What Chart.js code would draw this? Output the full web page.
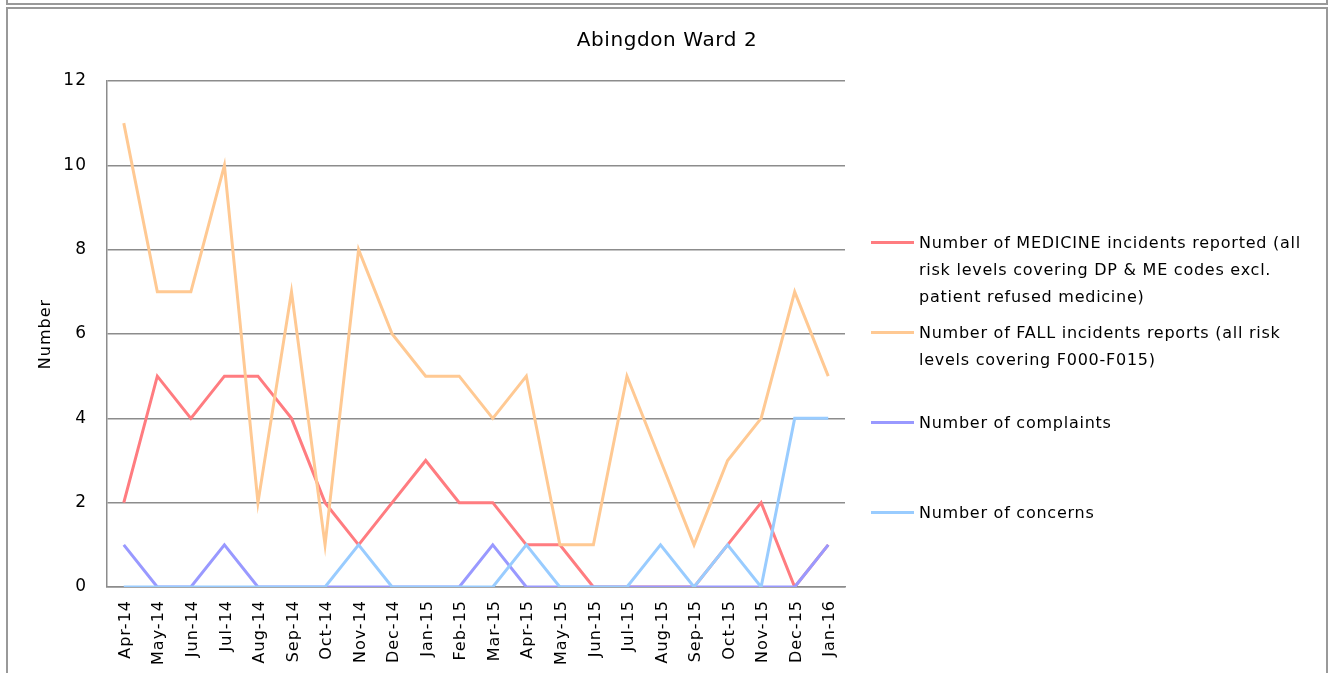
<!DOCTYPE html>
<html>
<head>
<meta charset="utf-8">
<script src="https://cdn.jsdelivr.net/npm/chart.js@4.4.0/dist/chart.umd.min.js"></script>
<style>
    body { margin: 0; background: #fff; font-family: "DejaVu Sans", sans-serif; }
    #wrap { position: relative; width: 1334px; height: 673px; overflow: hidden; }
    #prevBox { position: absolute; left: 6px; top: -10px; width: 1318px; height: 11px; border: 2px solid #999; }
    #box { position: absolute; left: 6px; top: 7px; width: 1318px; height: 700px; border: 2px solid #999; }
    #title { position: absolute; left: 0; width: 1334px; top: 27px; text-align: center; font-size: 20px; letter-spacing: 0.6px; color: #000; }
    #legend { position: absolute; left: 871px; top: 0; }
    .item { position: absolute; left: 0; width: 450px; }
    .swatch { position: absolute; left: 0; top: 12px; width: 43px; height: 3px; }
    .text { position: absolute; left: 48px; top: 0; font-size: 16px; letter-spacing: 0.75px; line-height: 27px; white-space: nowrap; color: #000; }
    canvas { position: absolute; left: 0; top: 0; }
</style>
</head>
<body>
<div id="wrap">
    <div id="prevBox"></div>
    <div id="box"></div>
    <canvas id="chart" width="1334" height="673"></canvas>
    <div id="title"></div>
    <div id="legend"></div>
</div>
<script>
const chartTitle = "Abingdon Ward 2";
const yAxisTitle = "Number";

const months = ["Apr-14", "May-14", "Jun-14", "Jul-14", "Aug-14", "Sep-14", "Oct-14", "Nov-14",
    "Dec-14", "Jan-15", "Feb-15", "Mar-15", "Apr-15", "May-15", "Jun-15", "Jul-15", "Aug-15",
    "Sep-15", "Oct-15", "Nov-15", "Dec-15", "Jan-16"];

const medicineIncidents = [2, 5, 4, 5, 5, 4, 2, 1, 2, 3, 2, 2, 1, 1, 0, 0, 0, 0, 1, 2, 0, 1];
const fallIncidents     = [11, 7, 7, 10, 2, 7, 1, 8, 6, 5, 5, 4, 5, 1, 1, 5, 3, 1, 3, 4, 7, 5];
const complaints        = [1, 0, 0, 1, 0, 0, 0, 0, 0, 0, 0, 1, 0, 0, 0, 0, 0, 0, 0, 0, 0, 1];
const concerns          = [0, 0, 0, 0, 0, 0, 0, 1, 0, 0, 0, 0, 1, 0, 0, 0, 1, 0, 1, 0, 4, 4];

// legend text, already broken into the lines used in the picture
const legendLines = [
    ["Number of MEDICINE incidents reported (all", "risk levels covering DP & ME codes excl.", "patient refused medicine)"],
    ["Number of FALL incidents reports (all risk", "levels covering F000-F015)"],
    ["Number of complaints"],
    ["Number of concerns"]
];

const seriesColors = ["#FF7C80", "#FFC993", "#9999FF", "#99CCFF"];
const yTicks = [0, 2, 4, 6, 8, 10, 12];

const seriesValues = [medicineIncidents, fallIncidents, complaints, concerns];

function buildDatasets() {
    const ret = [];
    for (let i = 0; i < seriesValues.length; i++) {
        ret.push({
            label: legendLines[i].join(" "),
            data: seriesValues[i],
            borderColor: seriesColors[i],
            backgroundColor: seriesColors[i],
            borderWidth: 3,
            pointRadius: 0,
            tension: 0,
            // later series sit on top, like the original
            order: seriesValues.length - i
        });
    }
    return ret;
}

function buildLegend() {
    const legend = document.getElementById("legend");
    for (let i = 0; i < legendLines.length; i++) {
        const item = document.createElement("div");
        item.className = "item";
        item.style.top = (229 + i * 90) + "px";

        const swatch = document.createElement("div");
        swatch.className = "swatch";
        swatch.style.background = seriesColors[i];
        item.appendChild(swatch);

        const text = document.createElement("div");
        text.className = "text";
        text.innerHTML = legendLines[i].map(l => l.replace(/&/g, "&amp;")).join("<br>");
        item.appendChild(text);

        legend.appendChild(item);
    }
}

document.getElementById("title").textContent = chartTitle;
buildLegend();

Chart.defaults.font.family = "'DejaVu Sans', sans-serif";
Chart.defaults.color = "#000";

const gridColor = "#8c8c8c";

// the original text is widely spaced, so space the canvas text a little too
const spacedText = {
    id: "spacedText",
    beforeDraw(chart) {
        chart.ctx.letterSpacing = "1px";
    }
};

new Chart(document.getElementById("chart"), {
    type: "line",
    plugins: [spacedText],
    data: {
        labels: months,
        datasets: buildDatasets()
    },
    options: {
        responsive: false,
        animation: false,
        layout: {
            padding: { top: 81, right: 489, left: 0, bottom: 0 }
        },
        scales: {
            x: {
                offset: true,
                grid: { display: false, drawTicks: false },
                border: { display: true, color: gridColor, width: 1.5 },
                ticks: {
                    minRotation: 90,
                    maxRotation: 90,
                    autoSkip: false,
                    padding: 13,
                    labelOffset: 2,
                    font: { size: 16 }
                },
                afterFit: scale => { scale.height = 86; }
            },
            y: {
                min: 0,
                max: 12,
                afterBuildTicks: scale => {
                    scale.ticks = yTicks.map(v => ({ value: v }));
                },
                grid: { color: gridColor, lineWidth: 1.5, drawTicks: false },
                border: { display: true, color: gridColor, width: 1.5 },
                ticks: {
                    padding: 20,
                    font: { size: 17 }
                },
                title: {
                    display: true,
                    text: yAxisTitle,
                    font: { size: 16 },
                    padding: { top: 36 }
                },
                afterFit: scale => { scale.width = 107; }
            }
        },
        plugins: {
            legend: { display: false },
            title: { display: false },
            tooltip: { enabled: false }
        }
    }
});
</script>
</body>
</html>
